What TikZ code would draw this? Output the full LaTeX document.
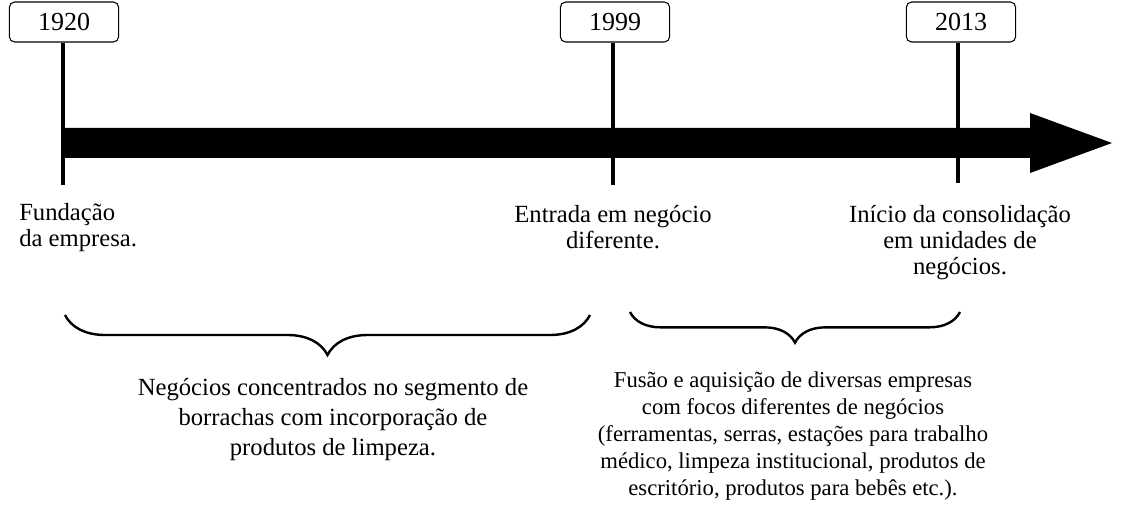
\documentclass[tikz,border=0pt]{standalone}
\usepackage{fontspec}
\setmainfont{Liberation Serif}
\usetikzlibrary{decorations.pathreplacing}
\begin{document}
\begin{tikzpicture}[x=0.75pt,y=-0.75pt,
  yearbox/.style={draw,rounded corners=4pt,line width=0.8pt,minimum width=82pt,minimum height=30pt,font=\fontsize{19.5}{22}\selectfont},
  lbl/.style={font=\fontsize{18.5}{19.5}\selectfont,align=center,inner sep=0pt},
  tick/.style={line width=2.5pt},
  brc/.style={decorate,line width=1.8pt}]
\useasboundingbox (0,0) rectangle (1122,517);
\node[yearbox] (y1) at (64,22) {1920};
\node[yearbox] (y2) at (615,22) {1999};
\node[yearbox] (y3) at (961,22) {2013};
\coordinate (b1) at (63,185);
\coordinate (b2) at (613,185);
\coordinate (b3) at (958,183);
\draw[tick] (y1.south -| b1) -- (b1);
\draw[tick] (y2.south -| b2) -- (b2);
\draw[tick] (y3.south -| b3) -- (b3);
\fill (63,128) -- (1030,128) -- (1030,113) -- (1112,143) -- (1030,173) -- (1030,158) -- (63,158) -- cycle;
\node[lbl,align=left,anchor=north west] (t1) at (19,203) {Fundação\\da empresa.};
\node[lbl,anchor=north] (t2) at (613,205) {Entrada em negócio\\diferente.};
\node[lbl,anchor=north] (t3) at (960,205) {Início da consolidação\\em unidades de\\negócios.};
\coordinate (c1a) at (65,315); \coordinate (c1b) at (590,315);
\coordinate (c2a) at (630,312); \coordinate (c2b) at (960,312);
\draw[brc,decoration={brace,mirror,amplitude=30pt}] (c1a) -- (c1b);
\draw[brc,decoration={brace,mirror,amplitude=23pt}] (c2a) -- (c2b);
\node[lbl,font=\fontsize{18.5}{22.5}\selectfont,anchor=north] (t4) at (333,378) {Negócios concentrados no segmento de\\borrachas com incorporação de\\produtos de limpeza.};
\node[lbl,font=\fontsize{17}{20.25}\selectfont,anchor=north] (t5) at (793,372) {Fusão e aquisição de diversas empresas\\com focos diferentes de negócios\\(ferramentas, serras, estações para trabalho\\médico, limpeza institucional, produtos de\\escritório, produtos para bebês etc.).};
\end{tikzpicture}
\end{document}
